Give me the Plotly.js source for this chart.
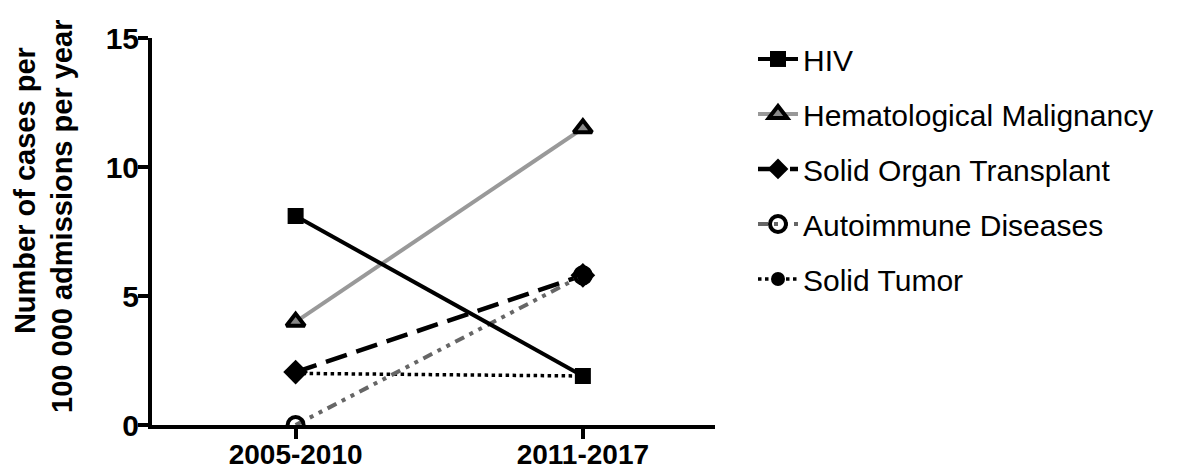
<!DOCTYPE html>
<html><head><meta charset="utf-8">
<script src="https://cdn.plot.ly/plotly-3.0.1.min.js"></script>
<style>body{margin:0;background:#fff}#c{width:1177px;height:471px}</style>
</head><body><div id="c"></div>
<script>
const categories = ["2005-2010", "2011-2017"];
const hiv = [8.1, 1.9];
const heme = [4.0, 11.5];
const sot = [2.05, 5.8];
const autoimmune = [0.0, 5.8];
const solidTumor = [2.0, 1.9];
const seriesNames = ["HIV", "Hematological Malignancy", "Solid Organ Transplant", "Autoimmune Diseases", "Solid Tumor"];
const yTitleLines = ["Number of cases per", "100 000 admissions per year"];

const FONT = "Liberation Sans, Arial, Helvetica, sans-serif";
const traces = [
  {x: categories, y: solidTumor, name: seriesNames[4], mode: "lines+markers", legendgroup: "e",
   line: {color: "#000", width: 3.5, dash: "dot"}, marker: {symbol: "circle", size: 14, color: "#000"}, legendrank: 5},
  {x: categories, y: sot, name: seriesNames[2], mode: "lines+markers", legendgroup: "c",
   line: {color: "#000", width: 4.5, dash: "22px,10px"}, marker: {symbol: "diamond", size: 19, color: "#000"}, legendrank: 3},
  {x: categories, y: autoimmune, name: seriesNames[3], mode: "lines+markers", legendgroup: "d",
   line: {color: "#666", width: 4, dash: "10px,6px,4px,6px,4px,6px"}, marker: {symbol: "circle-open", size: 16, color: "#000", line: {width: 4}}, legendrank: 4},
  {x: categories, y: heme, name: seriesNames[1], mode: "lines+markers", legendgroup: "b",
   line: {color: "#999", width: 4}, marker: {symbol: "triangle-up", size: 16, color: "#888", line: {color: "#000", width: 4}}, legendrank: 2},
  {x: categories, y: hiv, name: seriesNames[0], mode: "lines+markers", legendgroup: "a",
   line: {color: "#000", width: 4}, marker: {symbol: "square", size: 16, color: "#000"}, legendrank: 1}
];

const layout = {
  width: 1177, height: 471,
  margin: {l: 152, r: 462, t: 38, b: 46},
  paper_bgcolor: "#fff", plot_bgcolor: "#fff",
  font: {family: FONT, color: "#000"},
  showlegend: true,
  legend: {x: 1.0675, y: 1.013, xanchor: "left", yanchor: "top", font: {size: 30, family: FONT}, itemwidth: 40,
           tracegroupgap: 13, traceorder: "grouped", maxheight: 1},
  xaxis: {type: "category", range: [-0.5, 1.46], showline: true, linewidth: 4, linecolor: "#000",
          ticks: "outside", ticklen: 10, tickwidth: 4, tickcolor: "#000", showgrid: false, zeroline: false,
          ticklabelstandoff: -9,
          tickfont: {size: 28, family: FONT, weight: "bold"}},
  yaxis: {range: [0, 15], tickvals: [0, 5, 10, 15], showline: true, linewidth: 4, linecolor: "#000",
          ticks: "outside", ticklen: 10, tickwidth: 4, tickcolor: "#000", showgrid: false, zeroline: false,
          ticklabelstandoff: -7,
          tickfont: {size: 30, family: FONT, weight: "bold"}},
  annotations: [
    {text: yTitleLines[0], xref: "paper", yref: "paper", x: -0.2256, y: 0.607, xanchor: "center", yanchor: "middle",
     textangle: -90, showarrow: false, font: {size: 29, family: FONT, weight: "bold"}},
    {text: yTitleLines[1], xref: "paper", yref: "paper", x: -0.16, y: 0.540, xanchor: "center", yanchor: "middle",
     textangle: -90, showarrow: false, font: {size: 29, family: FONT, weight: "bold"}}
  ]
};
Plotly.newPlot("c", traces, layout, {displayModeBar: false, staticPlot: true});
</script></body></html>
